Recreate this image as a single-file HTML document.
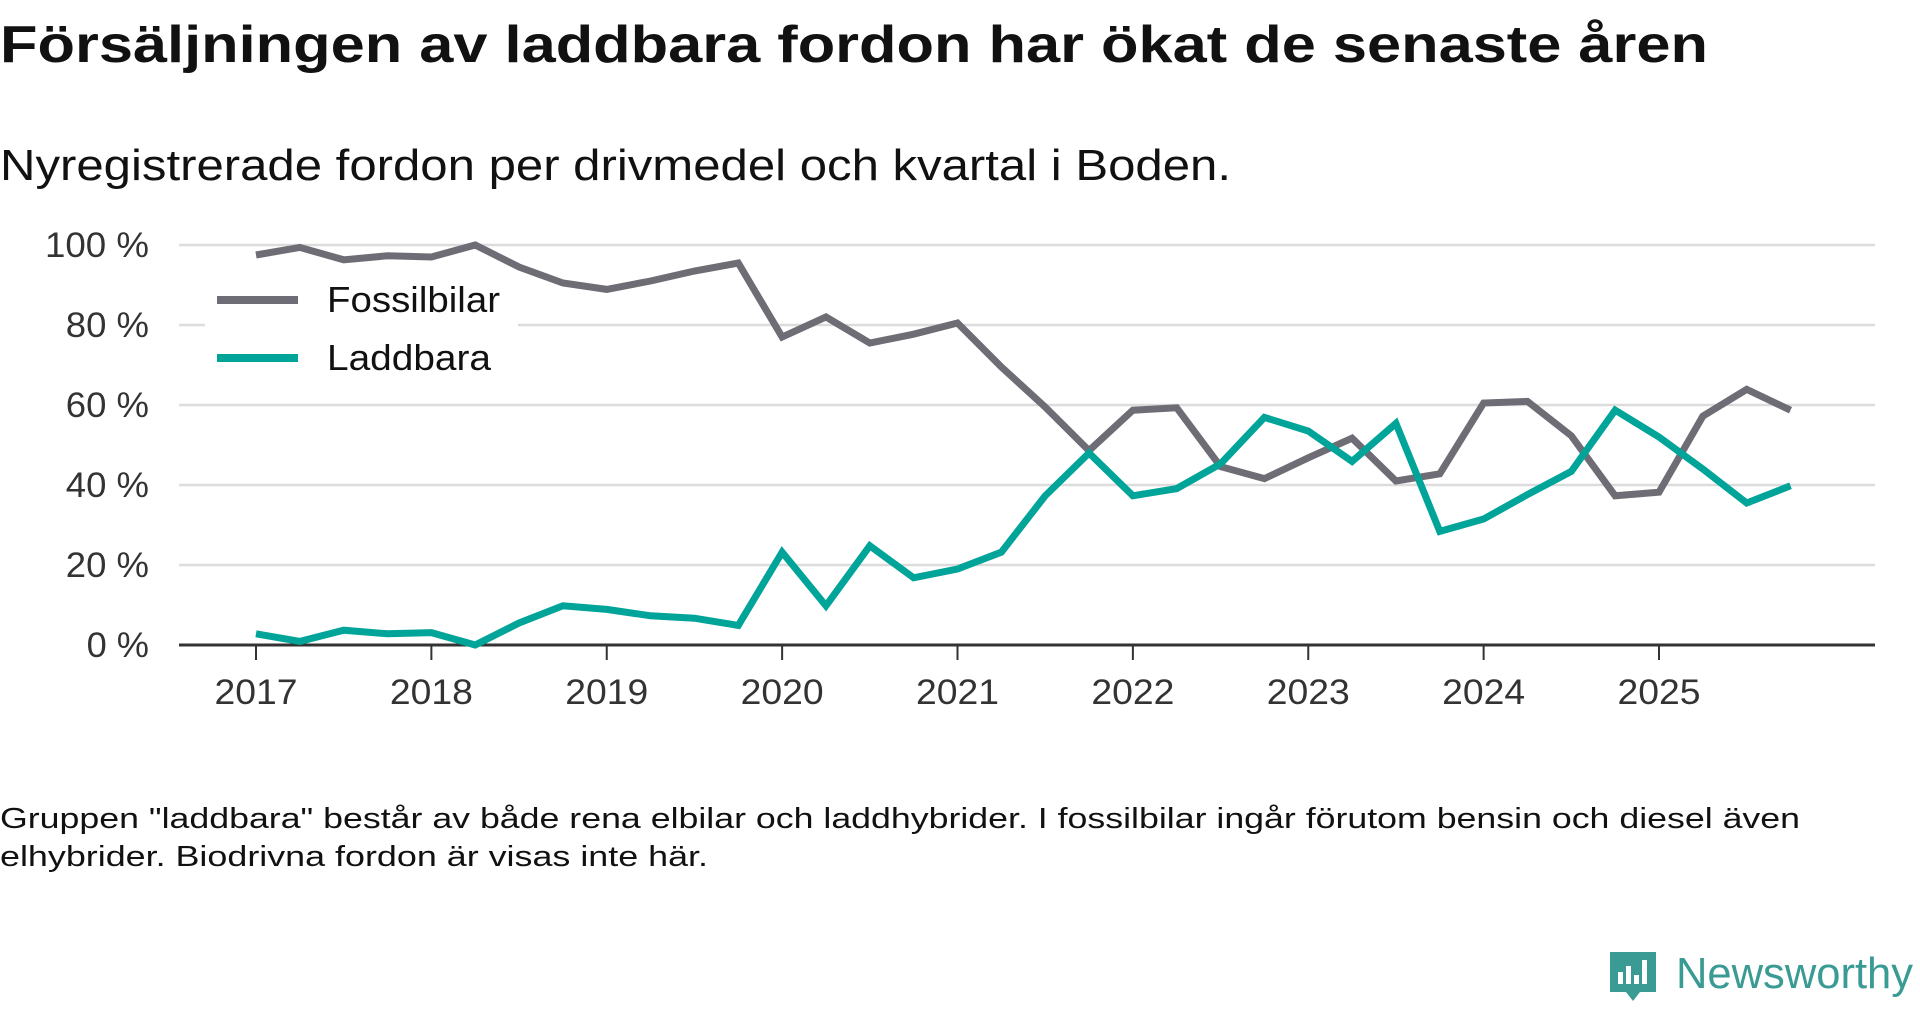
<!DOCTYPE html>
<html><head><meta charset="utf-8"><style>
body{margin:0;background:#fff;width:1920px;height:1010px;overflow:hidden;font-family:"Liberation Sans",sans-serif;}
</style></head><body>
<svg id="chart" width="1920" height="1010" xmlns="http://www.w3.org/2000/svg">
<text x="0" y="62" font-size="52" font-weight="bold" fill="#111" textLength="1708" lengthAdjust="spacingAndGlyphs">Försäljningen av laddbara fordon har ökat de senaste åren</text>
<text x="0" y="180" font-size="44" fill="#111" textLength="1231" lengthAdjust="spacingAndGlyphs">Nyregistrerade fordon per drivmedel och kvartal i Boden.</text>
<g id="grid"></g><g id="series"></g><g id="legend"></g>
<text x="0" y="828" font-size="29" fill="#111" textLength="1800" lengthAdjust="spacingAndGlyphs">Gruppen "laddbara" består av både rena elbilar och laddhybrider. I fossilbilar ingår förutom bensin och diesel även</text>
<text x="0" y="866" font-size="29" fill="#111" textLength="708" lengthAdjust="spacingAndGlyphs">elhybrider. Biodrivna fordon är visas inte här.</text>
<g>
<path d="M1610 952 h46 v40 h-16 l-7 9 l-7 -9 h-16 z" fill="#3a9a94"/>
<rect x="1618" y="972" width="5" height="12" fill="#fff"/><rect x="1626" y="966" width="5" height="18" fill="#fff"/><rect x="1634" y="975" width="5" height="9" fill="#fff"/><rect x="1642" y="960" width="5" height="24" fill="#fff"/>
<text x="1676" y="988" font-size="44" fill="#3a9a94" textLength="237" lengthAdjust="spacingAndGlyphs">Newsworthy</text>
</g>
</svg>
<script>
const years=["2017","2018","2019","2020","2021","2022","2023","2024","2025"];
const yTicks=[0,20,40,60,80,100];
const fossil=[97.5,99.4,96.3,97.3,97,100,94.5,90.5,88.9,91,93.5,95.5,77,82,75.5,77.7,80.5,69.5,59.5,48.6,58.7,59.3,44.6,41.6,46.8,51.7,41,42.8,60.5,60.9,52.3,37.3,38.2,57.2,63.9,58.7];
const laddbara=[2.8,0.9,3.7,2.8,3.1,0,5.5,9.8,8.9,7.3,6.7,4.9,23.2,9.8,24.8,16.8,19,23.2,37.3,48,37.3,39.1,45.3,56.9,53.5,45.9,55.4,28.4,31.5,37.6,43.4,58.7,52,44,35.5,39.8];
const NS="http://www.w3.org/2000/svg";
const X0=179,X1=1875;
function xs(i){return 256+i*(1659-256)/32;}
function ys(v){return 645-v*4;}
function mk(t,a,p){const e=document.createElementNS(NS,t);for(const k in a)e.setAttribute(k,a[k]);p.appendChild(e);return e;}
const grid=document.getElementById('grid');
yTicks.forEach(v=>{
 if(v>0){const l=mk('line',{x1:X0,x2:X1,y1:ys(v),y2:ys(v),stroke:'#dcdcdc','stroke-width':2.5},grid);
 
 }
 const s=v+' %';
 const t=mk('text',{x:149,y:ys(v)+12,'text-anchor':'end','font-size':35,fill:'#333',textLength:s.length*20.8,lengthAdjust:'spacingAndGlyphs'},grid);
 t.textContent=s;
 
 
});
years.forEach((y,k)=>{
 const x=xs(k*4);
 const tk=mk('line',{x1:x,x2:x,y1:645,y2:660,stroke:'#333','stroke-width':2},grid);
 
 
 const t=mk('text',{x:x,y:704,'text-anchor':'middle','font-size':35,fill:'#333',textLength:83,lengthAdjust:'spacingAndGlyphs'},grid);
 t.textContent=y;
 
 
});
const ax=mk('line',{x1:X0,x2:X1,y1:645,y2:645,stroke:'#333','stroke-width':3},grid);


const sg=document.getElementById('series');
function line(d,c,n){const p=mk('polyline',{points:d.map((v,i)=>xs(i)+','+ys(v)).join(' '),fill:'none',stroke:c,'stroke-width':7,'stroke-linejoin':'miter'},sg);
 
 }
line(fossil,'#6e6d75','fossilbilar-line');
line(laddbara,'#00a499','laddbara-line');
const lg=document.getElementById('legend');
mk('rect',{x:205,y:272,width:313,height:120,fill:'#fff'},lg);
[['Fossilbilar','#6e6d75',300,173],['Laddbara','#00a499',358,164]].forEach(([n,c,y,w])=>{
 const g=mk('g',{},lg);
 
 
 mk('line',{x1:217,x2:298,y1:y,y2:y,stroke:c,'stroke-width':8},g);
 const t=mk('text',{x:327,y:y+12,'font-size':36,fill:'#111',textLength:w,lengthAdjust:'spacingAndGlyphs'},g);t.textContent=n;
});
</script>
</body></html>
